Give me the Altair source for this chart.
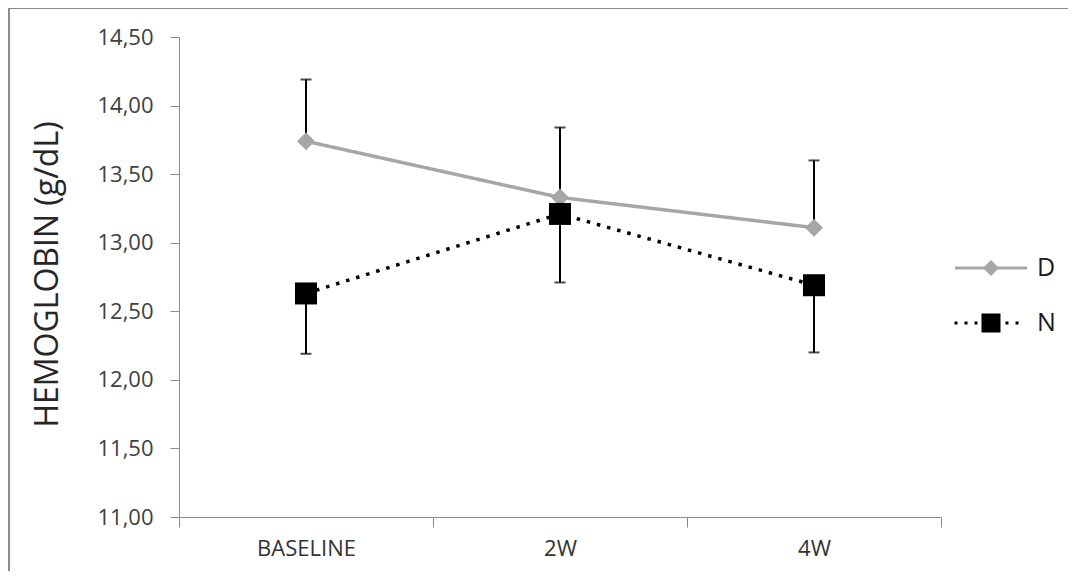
import altair as alt
import pandas as pd

# ---- data ----
categories = ["BASELINE", "2W", "4W"]
series_names = ["D", "N"]
d_values = [13.74, 13.33, 13.11]
d_err = [0.45, 0.51, 0.49]      # drawn upward
n_values = [12.63, 13.21, 12.69]
n_err = [0.44, 0.50, 0.49]      # drawn downward
y_ticks = [11.0, 11.5, 12.0, 12.5, 13.0, 13.5, 14.0, 14.5]

series_colors = ["#a6a6a6", "#000000"]
err_side = {"D": 1, "N": -1}

rows = []
for s, vals, errs in (("D", d_values, d_err), ("N", n_values, n_err)):
    for c, v, e in zip(categories, vals, errs):
        rows.append({"time": c, "series": s, "value": v, "err": e, "side": err_side[s]})
df = pd.DataFrame(rows)

FONT = "Open Sans"
W, H = 762, 480

x_enc = alt.X("time:N", sort=categories,
              scale=alt.Scale(type="band", paddingInner=0, paddingOuter=0),
              axis=alt.Axis(title=None, labelAngle=0, tickBand="extent", tickSize=10,
                            domainColor="#8c8c8c", tickColor="#8c8c8c",
                            labelFont=FONT, labelFontSize=22, labelColor="#333333",
                            labelPadding=11))
y_scale = alt.Scale(domain=[11, 14.5], nice=False, zero=False)
y_axis = alt.Axis(title="HEMOGLOBIN (g/dL)", values=y_ticks, grid=False,
                  labelExpr="replace(format(datum.value, '.2f'), '.', ',')",
                  tickSize=9, labelPadding=17, domainColor="#8c8c8c", tickColor="#8c8c8c",
                  labelFont=FONT, labelFontSize=22, labelColor="#404040",
                  titleFont=FONT, titleFontSize=32, titleFontWeight="normal",
                  titleColor="#262626", titleX=-122, titleY=237, titleBaseline="alphabetic")

color_enc = alt.Color("series:N", scale=alt.Scale(domain=series_names, range=series_colors), legend=None)

base = alt.Chart(df)

lines = base.mark_line(strokeWidth=3.5, strokeCap="butt").encode(
    x=x_enc,
    y=alt.Y("value:Q", scale=y_scale, axis=y_axis),
    color=color_enc,
    strokeDash=alt.StrokeDash("series:N", scale=alt.Scale(domain=series_names, range=[[1, 0], [3.5, 7]]), legend=None),
    detail="series:N",
)

err_base = base.transform_calculate(bound="datum.value + datum.side * datum.err")

rules = err_base.mark_rule(color="black", strokeWidth=2).encode(
    x=alt.X("time:N", sort=categories),
    y=alt.Y("value:Q", scale=y_scale),
    y2="bound:Q",
)
caps = err_base.mark_tick(color="black", thickness=2, size=11).encode(
    x=alt.X("time:N", sort=categories),
    y=alt.Y("bound:Q", scale=y_scale),
)

points = base.mark_point(filled=True, opacity=1).encode(
    x=alt.X("time:N", sort=categories),
    y=alt.Y("value:Q", scale=y_scale),
    color=color_enc,
    shape=alt.Shape("series:N", scale=alt.Scale(domain=series_names, range=["diamond", "square"]), legend=None),
    size=alt.Size("series:N", scale=alt.Scale(domain=series_names, range=[324, 484]), legend=None),
)

one = alt.Data(values=[{"k": 1}])
frame_top = alt.Chart(one).mark_rule(color="#8c8c8c", strokeWidth=2).encode(
    x=alt.value(-171), x2=alt.value(889), y=alt.value(-29))
frame_left = alt.Chart(one).mark_rule(color="#8c8c8c", strokeWidth=2).encode(
    x=alt.value(-170), y=alt.value(-30), y2=alt.value(534))

# legend symbols: line + marker
path_d = "M-1.8,-0.08H1.8V0.08H-1.8Z M-0.4,0L0,-0.4L0.4,0L0,0.4Z"
dots = ""
for cx in (-1.75, -1.25, -0.75, 0.8, 1.3):
    dots += f"M{cx-0.075:.3f},-0.075H{cx+0.075:.3f}V0.075H{cx-0.075:.3f}Z "
path_n = dots + "M-0.475,-0.475H0.475V0.475H-0.475Z"

leg_params = dict(title=None, orient="none", legendX=792, legendY=211, padding=0,
                  symbolSize=1600, symbolStrokeWidth=0, symbolOpacity=1,
                  labelFont=FONT, labelFontSize=25,
                  labelColor="#1a1a1a", labelOffset=26, rowPadding=22)
# legend-only layer: its points are placed outside the canvas
legend_layer = alt.Chart(alt.Data(values=[{"lg": s} for s in series_names])).mark_point(
    filled=True).encode(
    x=alt.value(-5000), y=alt.value(-5000),
    shape=alt.Shape("lg:N", scale=alt.Scale(domain=series_names, range=[path_d, path_n]),
                    legend=alt.Legend(**leg_params)),
    color=alt.Color("lg:N", scale=alt.Scale(domain=series_names, range=series_colors),
                    legend=alt.Legend(**leg_params)),
)

main = alt.layer(frame_top, frame_left, lines, rules, caps, points)
chart = alt.layer(main, legend_layer).resolve_scale(
    color="independent", shape="independent"
).properties(
    width=W, height=H,
    autosize=alt.AutoSizeParams(type="none"),
    padding={"left": 171, "top": 29, "right": 127, "bottom": 54},
    background="white",
).configure_view(strokeWidth=0)

chart.save("out.html", embed_options={"renderer": "svg", "actions": False})
